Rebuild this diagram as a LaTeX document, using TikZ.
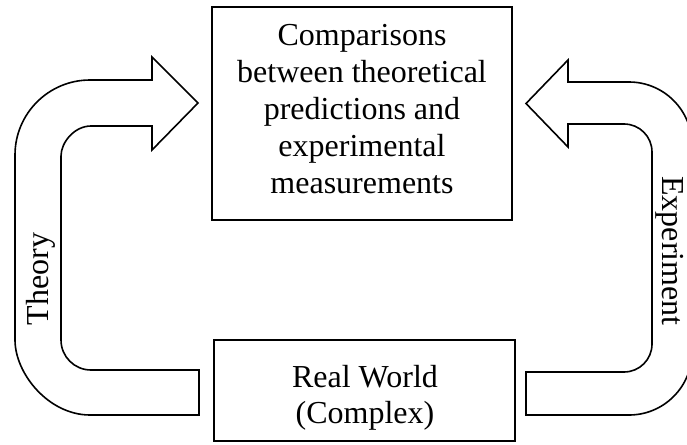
\documentclass[tikz,border=0pt]{standalone}
\usepackage{fontspec}
\setmainfont{Liberation Serif}
\begin{document}
\begin{tikzpicture}[x=1pt,y=-1pt,
  every node/.style={font=\fontsize{32pt}{37pt}\selectfont},
  boxshape/.style={draw=black,line width=1.6pt,inner sep=0pt},
  txt/.style={align=center,inner sep=0pt},
  bigarrow/.style={draw=black,line width=1.6pt,fill=white,line join=miter}]
\useasboundingbox (0,0) rectangle (687,444);
% boxes
\node[boxshape,minimum width=300pt,minimum height=213pt] (cmp) at (362,113.5) {};
\node[txt] (cmptxt) at (362,109) {Comparisons\\between theoretical\\predictions and\\experimental\\measurements};
\node[boxshape,minimum width=301pt,minimum height=101pt] (real) at (364.5,390.5) {};
\node[txt,font=\fontsize{32pt}{36pt}\selectfont] (realtxt) at (365,397.5) {Real World\\(Complex)};
% left (theory) arrow
\draw[bigarrow] (199,415) -- (90,415)
  .. controls (48.6,415) and (15,373.6) .. (15,340)
  -- (15,155)
  .. controls (15,113.6) and (48.6,80) .. (90,80)
  -- (152,80) -- (152,57) -- (198,103) -- (152,150) -- (152,126)
  -- (91,126)
  .. controls (74.4,126) and (61,142.4) .. (61,156)
  -- (61,340)
  .. controls (61,356.6) and (74.4,370) .. (91,370)
  -- (199,370) -- cycle;
% right (experiment) arrow
\draw[bigarrow] (526,415) -- (629,415)
  .. controls (663.8,415) and (692,386.8) .. (692,352)
  -- (692,145)
  .. controls (692,110.2) and (663.8,82) .. (629,82)
  -- (568,82) -- (568,60) -- (526,103.5) -- (568,147) -- (568,124)
  -- (624,124)
  .. controls (639.5,124) and (652,136.5) .. (652,152)
  -- (652,344)
  .. controls (652,359.5) and (639.5,372) .. (624,372)
  -- (526,372) -- cycle;
% labels
\node[inner sep=0pt,anchor=base,rotate=90] (theory) at (48,279) {Theory};
\node[inner sep=0pt,anchor=base,rotate=-90] (experiment) at (662,251) {Experiment};
\end{tikzpicture}
\end{document}
